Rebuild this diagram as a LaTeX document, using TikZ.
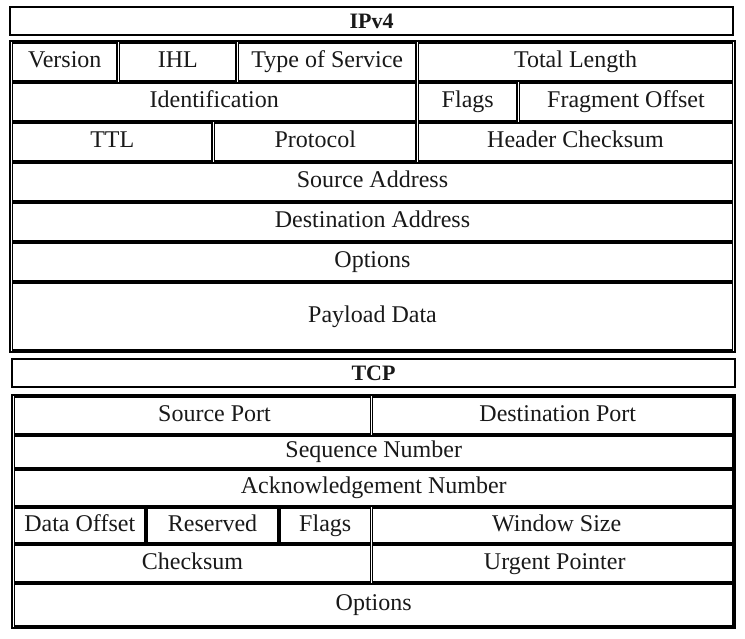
\documentclass[tikz,border=0pt]{standalone}
\usepackage{fontspec}
\setmainfont{Liberation Serif}
\begin{document}
\begin{tikzpicture}[x=1pt,y=-1pt,
  cell/.style={draw=black, line width=1.5pt, inner sep=0pt, fill=white,
    font=\fontsize{24}{28}\selectfont, text=black!90,
    text height=15pt, text depth=3.5pt},
  titlecell/.style={cell, font=\fontsize{22}{26}\selectfont\bfseries,
    text height=17pt, text depth=3pt},
  frame/.style={draw=black, line width=1.5pt}]
\useasboundingbox (0,0) rectangle (745,638);
% one table cell: name, left, top, right, bottom, text
\newcommand\pktcell[7][cell]{%
  \node[#1, minimum width={(#5-#3)*1pt}, minimum height={(#6-#4)*1pt}]
    (#2) at ({(#3+#5)/2},{(#4+#6)/2}) {#7};}

% ---------------- IPv4 header ----------------
\pktcell[titlecell]{ipv4}{10}{7}{733}{35}{IPv4}
\draw[frame] (10,41) rectangle (735,352);
\pktcell{version}{12.5}{43}{117}{81}{Version\hspace{8pt}}
\pktcell{ihl}{119.5}{43}{236}{81}{IHL\hspace{10pt}}
\pktcell{tos}{238.5}{43}{416}{81}{Type of Service\hspace{8pt}}
\pktcell{totlen}{418.5}{43}{732.5}{81}{Total Length\hspace{36pt}}
\pktcell{ident}{12.5}{83}{416}{121}{Identification}
\pktcell{ipflags}{418.5}{83}{517}{121}{Flags}
\pktcell{fragoff}{519.5}{83}{732.5}{121}{Fragment Offset}
\pktcell{ttl}{12.5}{123}{212}{161}{TTL\hspace{6pt}}
\pktcell{proto}{214.5}{123}{416}{161}{Protocol}
\pktcell{hdrcsum}{418.5}{123}{732.5}{161}{Header Checksum\hspace{36pt}}
\pktcell{srcaddr}{12.5}{163}{732.5}{201}{Source Address}
\pktcell{dstaddr}{12.5}{203}{732.5}{241}{Destination Address}
\pktcell{ipopts}{12.5}{243}{732.5}{281}{Options}
\pktcell{payload}{12.5}{283}{732.5}{350}{Payload Data}

% ---------------- TCP header ----------------
\pktcell[titlecell]{tcp}{12}{359}{735}{387}{TCP}
\draw[frame] (12,395) rectangle (735,628);
\pktcell{srcport}{14.5}{397}{370.5}{434}{\hspace{44pt}Source Port}
\pktcell{dstport}{372.5}{397}{733}{434}{\hspace{10pt}Destination Port}
\pktcell{seqnum}{14.5}{436}{733}{468}{Sequence Number}
\pktcell{acknum}{14.5}{470}{733}{506}{Acknowledgement Number}
\pktcell{dataoff}{14.5}{508}{145}{543}{Data Offset\hspace{8pt}}
\pktcell{reserved}{147}{508}{278}{543}{Reserved}
\pktcell{tcpflags}{280}{508}{370.5}{543}{Flags}
\pktcell{window}{372.5}{508}{733}{543}{\hspace{8pt}Window Size}
\pktcell{tcpcsum}{14.5}{545}{370.5}{582}{Checksum}
\pktcell{urgent}{372.5}{545}{733}{582}{\hspace{4pt}Urgent Pointer}
\pktcell{tcpopts}{14.5}{584}{733}{626}{Options}
\end{tikzpicture}
\end{document}
